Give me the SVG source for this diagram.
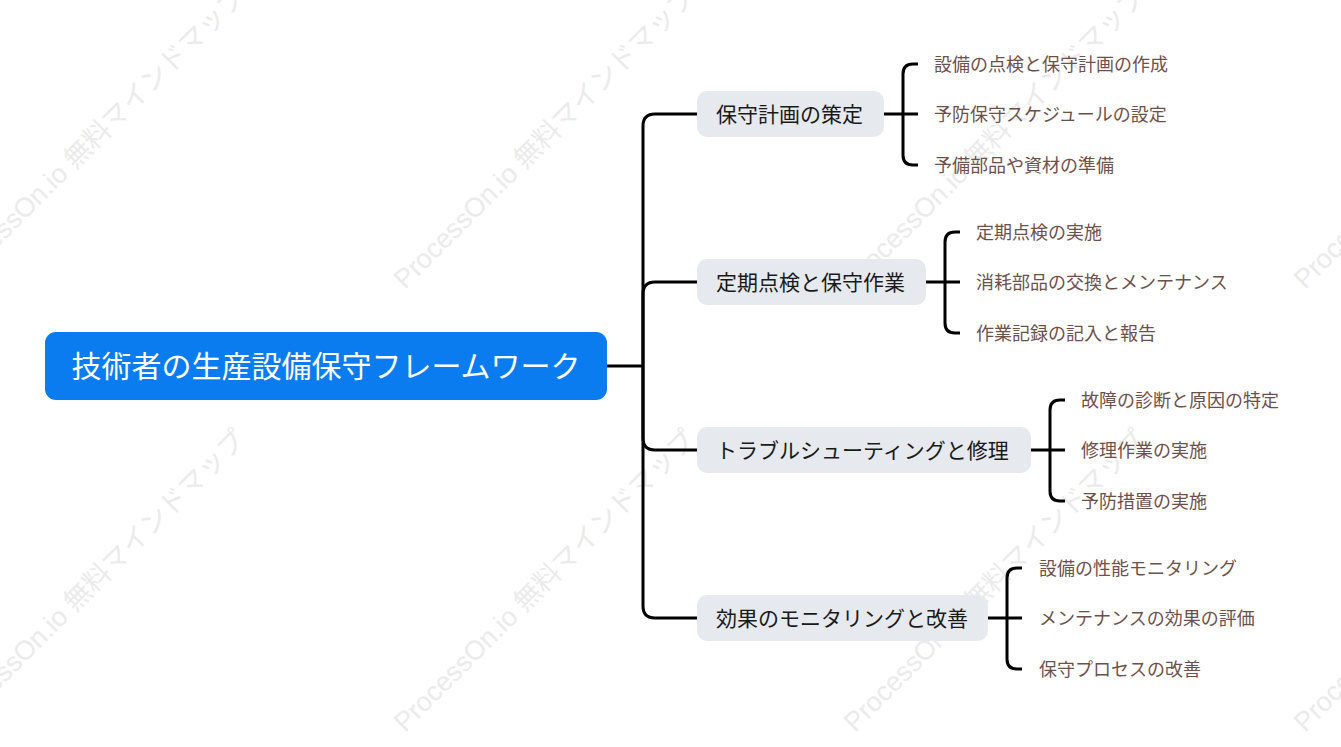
<svg xmlns="http://www.w3.org/2000/svg" width="1341" height="747" viewBox="0 0 1341 747">
<style>
.wm{font-family:"Liberation Sans","Noto Sans CJK JP",sans-serif;font-size:27px;fill:#ebebeb}
.root{fill:#0a7cef}
.rt{font-family:"Liberation Sans","Noto Sans CJK JP",sans-serif;font-size:30px;fill:#ffffff}
.br{fill:#e6e9ed}
.bt{font-family:"Liberation Sans","Noto Sans CJK JP",sans-serif;font-size:21px;fill:#1a1a1a}
.lt{font-family:"Liberation Sans","Noto Sans CJK JP",sans-serif;font-size:18px;fill:#6e504b}
.ln{fill:none;stroke:#000;stroke-width:3;stroke-linecap:butt}
</style>
<rect width="1341" height="747" fill="#fff"/>
<g id="watermark">
<text class="wm" transform="translate(-45,290) rotate(-45)">ProcessOn.io 無料マインドマップ</text>
<text class="wm" transform="translate(405,290) rotate(-45)">ProcessOn.io 無料マインドマップ</text>
<text class="wm" transform="translate(855,290) rotate(-45)">ProcessOn.io 無料マインドマップ</text>
<text class="wm" transform="translate(1305,290) rotate(-45)">ProcessOn.io 無料マインドマップ</text>
<text class="wm" transform="translate(-45,733) rotate(-45)">ProcessOn.io 無料マインドマップ</text>
<text class="wm" transform="translate(405,733) rotate(-45)">ProcessOn.io 無料マインドマップ</text>
<text class="wm" transform="translate(855,733) rotate(-45)">ProcessOn.io 無料マインドマップ</text>
<text class="wm" transform="translate(1305,733) rotate(-45)">ProcessOn.io 無料マインドマップ</text>
</g>
<g id="connectors">
<path class="ln" d="M607,366 H643"/>
<path class="ln" d="M643,366 V126 Q643,114 655,114 H697"/>
<path class="ln" d="M643,366 V294 Q643,282 655,282 H697"/>
<path class="ln" d="M643,366 V438 Q643,450 655,450 H697"/>
<path class="ln" d="M643,366 V606 Q643,618 655,618 H697"/>
<path class="ln" d="M884,114 H918"/>
<path class="ln" d="M918,64 H913 Q903,64 903,74 V155 Q903,165 913,165 H918"/>
<path class="ln" d="M926,282 H960"/>
<path class="ln" d="M960,232 H955 Q945,232 945,242 V323 Q945,333 955,333 H960"/>
<path class="ln" d="M1031,450 H1065"/>
<path class="ln" d="M1065,400 H1060 Q1050,400 1050,410 V491 Q1050,501 1060,501 H1065"/>
<path class="ln" d="M988,618 H1022"/>
<path class="ln" d="M1022,568 H1017 Q1007,568 1007,578 V659 Q1007,669 1017,669 H1022"/>
</g>
<g id="root">
<rect class="root" x="45" y="332" width="562" height="68" rx="11"/>
<text class="rt" x="326" y="376.5" text-anchor="middle">技術者の生産設備保守フレームワーク</text>
</g>
<g id="branch1">
<rect class="br" x="697" y="91" width="187" height="46" rx="10"/>
<text class="bt" x="716" y="121.5">保守計画の策定</text>
</g>
<g id="leaf1-1"><text class="lt" x="934" y="70.5">設備の点検と保守計画の作成</text></g>
<g id="leaf1-2"><text class="lt" x="934" y="120.5">予防保守スケジュールの設定</text></g>
<g id="leaf1-3"><text class="lt" x="934" y="171.5">予備部品や資材の準備</text></g>
<g id="branch2">
<rect class="br" x="697" y="259" width="229" height="46" rx="10"/>
<text class="bt" x="716" y="289.5">定期点検と保守作業</text>
</g>
<g id="leaf2-1"><text class="lt" x="976" y="238.5">定期点検の実施</text></g>
<g id="leaf2-2"><text class="lt" x="976" y="288.5">消耗部品の交換とメンテナンス</text></g>
<g id="leaf2-3"><text class="lt" x="976" y="339.5">作業記録の記入と報告</text></g>
<g id="branch3">
<rect class="br" x="697" y="427" width="334" height="46" rx="10"/>
<text class="bt" x="716" y="457.5">トラブルシューティングと修理</text>
</g>
<g id="leaf3-1"><text class="lt" x="1081" y="406.5">故障の診断と原因の特定</text></g>
<g id="leaf3-2"><text class="lt" x="1081" y="456.5">修理作業の実施</text></g>
<g id="leaf3-3"><text class="lt" x="1081" y="507.5">予防措置の実施</text></g>
<g id="branch4">
<rect class="br" x="697" y="595" width="291" height="46" rx="10"/>
<text class="bt" x="716" y="625.5">効果のモニタリングと改善</text>
</g>
<g id="leaf4-1"><text class="lt" x="1039" y="574.5">設備の性能モニタリング</text></g>
<g id="leaf4-2"><text class="lt" x="1039" y="624.5">メンテナンスの効果の評価</text></g>
<g id="leaf4-3"><text class="lt" x="1039" y="675.5">保守プロセスの改善</text></g>
</svg>
